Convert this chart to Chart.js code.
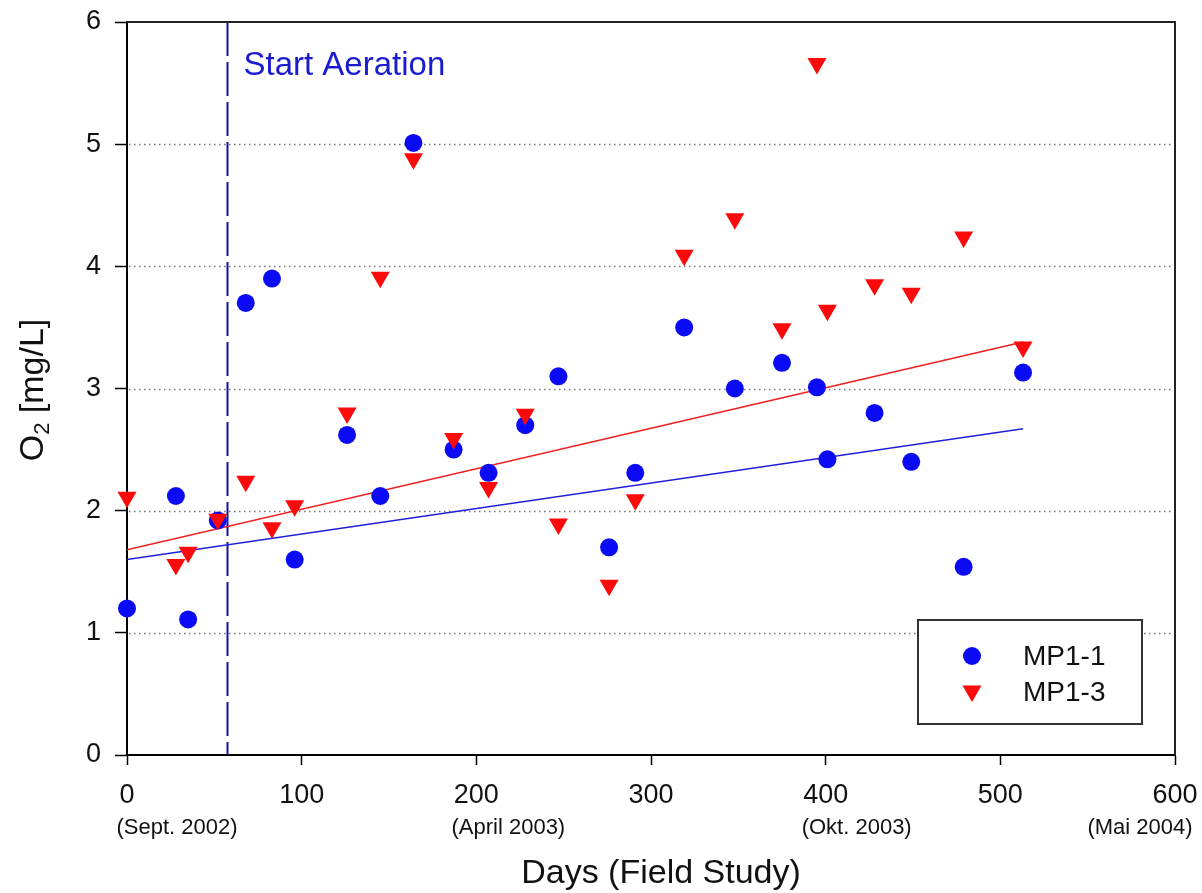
<!DOCTYPE html>
<html>
<head>
<meta charset="utf-8">
<script src="https://cdn.jsdelivr.net/npm/chart.js@4/dist/chart.umd.min.js"></script>
<style>
  body { margin: 0; background: #fff; }
  canvas { display: block; }
</style>
</head>
<body>
<canvas id="o2Chart" width="1202" height="893"></canvas>
<script>
const FONT = "'Liberation Sans', Arial, Helvetica, sans-serif";

// sampling days (field study) and measured O2 values [mg/L]
const days = [0, 28, 35, 52, 68, 83, 96, 126, 145, 164, 187, 207, 228, 247, 276, 291, 319, 348, 375, 395, 401, 428, 449, 479, 513];
const mp11 = [1.20, 2.12, 1.11, 1.92, 3.70, 3.90, 1.60, 2.62, 2.12, 5.01, 2.50, 2.31, 2.70, 3.10, 1.70, 2.31, 3.50, 3.00, 3.21, 3.01, 2.42, 2.80, 2.40, 1.54, 3.13];
const mp13 = [2.11, 1.56, 1.66, 1.93, 2.24, 1.86, 2.04, 2.80, 3.91, 4.88, 2.59, 2.19, 2.79, 1.89, 1.39, 2.09, 4.09, 4.39, 3.49, 5.66, 3.64, 3.85, 3.78, 4.24, 3.34];

// linear trend lines, end points
const trendDays = [0, 513];
const trend11 = [1.60, 2.67];
const trend13 = [1.68, 3.38];

const aerationDay = 57.5;
const gridLevels = [1, 2, 3, 4, 5];
const subLabelDays = [0, 200, 400, 600];
const subLabelTexts = ["(Sept. 2002)", "(April 2003)", "(Okt. 2003)", "(Mai 2004)"];

const toPoints = (xs, ys) => xs.map((x, i) => ({ x: x, y: ys[i] }));

const BLUE = "#0a0af5";
const RED = "#fa0a0a";

function triangleDown(ctx, x, y, r) {
  const h = r * Math.sqrt(3) / 2;
  ctx.beginPath();
  ctx.moveTo(x - h, y - r / 2);
  ctx.lineTo(x + h, y - r / 2);
  ctx.lineTo(x, y + r);
  ctx.closePath();
  ctx.fill();
}

const decor = {
  id: "decor",
  beforeDatasetsDraw(chart) {
    const { ctx, chartArea, scales } = chart;
    ctx.save();

    // dotted horizontal grid
    ctx.strokeStyle = "#777";
    ctx.lineWidth = 1.5;
    ctx.setLineDash([1.5, 3.5]);
    gridLevels.forEach(v => {
      const y = Math.round(scales.y.getPixelForValue(v)) + 0.5;
      ctx.beginPath();
      ctx.moveTo(chartArea.left + 2, y);
      ctx.lineTo(chartArea.right - 4, y);
      ctx.stroke();
    });

    // start of aeration
    const x = Math.round(scales.x.getPixelForValue(aerationDay)) + 0.5;
    ctx.strokeStyle = "#1414a0";
    ctx.lineWidth = 2;
    ctx.setLineDash([34, 6]);
    ctx.beginPath();
    ctx.moveTo(x, chartArea.top);
    ctx.lineTo(x, chartArea.bottom);
    ctx.stroke();
    ctx.setLineDash([]);

    ctx.fillStyle = "#1a1ad0";
    ctx.font = "33px " + FONT;
    ctx.textBaseline = "alphabetic";
    ctx.fillText("Start Aeration", x + 16, chartArea.top + 53);
    ctx.restore();
  },
  afterDraw(chart) {
    const { ctx, chartArea, scales } = chart;
    ctx.save();

    // top and right frame
    ctx.strokeStyle = "#222";
    ctx.lineWidth = 2;
    ctx.beginPath();
    ctx.moveTo(chartArea.left, chartArea.top);
    ctx.lineTo(chartArea.right, chartArea.top);
    ctx.lineTo(chartArea.right, chartArea.bottom);
    ctx.stroke();

    // date hints under the day ticks
    ctx.fillStyle = "#111";
    ctx.font = "22px " + FONT;
    ctx.textBaseline = "middle";
    ctx.textAlign = "center";
    const shifts = [50, 32, 31, -35];
    subLabelDays.forEach((d, i) => {
      ctx.fillText(subLabelTexts[i], scales.x.getPixelForValue(d) + shifts[i], 828);
    });

    // x title
    ctx.font = "34px " + FONT;
    ctx.fillText("Days (Field Study)", 661, 874);

    // y title with subscript
    ctx.translate(34, 390);
    ctx.rotate(-Math.PI / 2);
    ctx.textAlign = "left";
    const big = "34px " + FONT;
    const small = "22px " + FONT;
    ctx.font = big;
    const wO = ctx.measureText("O").width;
    ctx.font = small;
    const w2 = ctx.measureText("2").width;
    ctx.font = big;
    const wRest = ctx.measureText(" [mg/L]").width;
    let x0 = -(wO + w2 + wRest) / 2;
    ctx.fillText("O", x0, 0);
    ctx.font = small;
    ctx.fillText("2", x0 + wO, 9);
    ctx.font = big;
    ctx.fillText(" [mg/L]", x0 + wO + w2, 0);
    ctx.setTransform(1, 0, 0, 1, 0, 0);

    // legend
    const lx = chartArea.right - 257;
    const ly = chartArea.bottom - 135;
    ctx.fillStyle = "#fff";
    ctx.fillRect(lx, ly, 224, 104);
    ctx.strokeStyle = "#333";
    ctx.lineWidth = 2;
    ctx.strokeRect(lx, ly, 224, 104);
    ctx.fillStyle = BLUE;
    ctx.beginPath();
    ctx.arc(lx + 54, ly + 36, 9, 0, Math.PI * 2);
    ctx.fill();
    ctx.fillStyle = RED;
    triangleDown(ctx, lx + 54, ly + 71, 11);
    ctx.fillStyle = "#111";
    ctx.font = "28px " + FONT;
    ctx.textAlign = "left";
    ctx.textBaseline = "middle";
    ctx.fillText("MP1-1", lx + 105, ly + 37);
    ctx.fillText("MP1-3", lx + 105, ly + 73);
    ctx.restore();
  }
};

new Chart("o2Chart", {
  type: "scatter",
  data: {
    datasets: [
      {
        label: "MP1-3",
        data: toPoints(days, mp13),
        pointStyle: "triangle",
        rotation: 180,
        radius: 11,
        backgroundColor: RED,
        borderWidth: 0,
        clip: false,
        order: 0
      },
      {
        label: "MP1-1",
        data: toPoints(days, mp11),
        pointStyle: "circle",
        radius: 9,
        backgroundColor: BLUE,
        borderWidth: 0,
        clip: false,
        order: 1
      },
      {
        type: "line",
        label: "trend MP1-3",
        data: toPoints(trendDays, trend13),
        borderColor: "#f02020",
        borderWidth: 1.5,
        pointRadius: 0,
        fill: false,
        order: 2
      },
      {
        type: "line",
        label: "trend MP1-1",
        data: toPoints(trendDays, trend11),
        borderColor: "#2020d8",
        borderWidth: 1.5,
        pointRadius: 0,
        fill: false,
        order: 3
      }
    ]
  },
  options: {
    responsive: false,
    animation: false,
    layout: { padding: { top: 22, right: 27, left: 0, bottom: 0 } },
    plugins: {
      legend: { display: false },
      tooltip: { enabled: false }
    },
    scales: {
      x: {
        type: "linear",
        min: 0,
        max: 600,
        afterFit: scale => {
          scale.height = 138;
          scale.paddingLeft = 0;
          scale.paddingRight = 0;
        },
        ticks: {
          stepSize: 100,
          color: "#111",
          padding: 14,
          maxRotation: 0,
          font: { family: FONT, size: 27 }
        },
        grid: {
          drawOnChartArea: false,
          tickLength: 10,
          tickColor: "#000",
          tickWidth: 1.5
        },
        border: { color: "#000", width: 2 }
      },
      y: {
        min: 0,
        max: 6,
        afterFit: scale => {
          scale.width = 127;
          scale.paddingTop = 0;
          scale.paddingBottom = 0;
        },
        ticks: {
          stepSize: 1,
          color: "#111",
          padding: 14,
          font: { family: FONT, size: 27 }
        },
        grid: {
          drawOnChartArea: false,
          tickLength: 12,
          tickColor: "#000",
          tickWidth: 1.5
        },
        border: { color: "#000", width: 2 }
      }
    }
  },
  plugins: [decor]
});
</script>
</body>
</html>
